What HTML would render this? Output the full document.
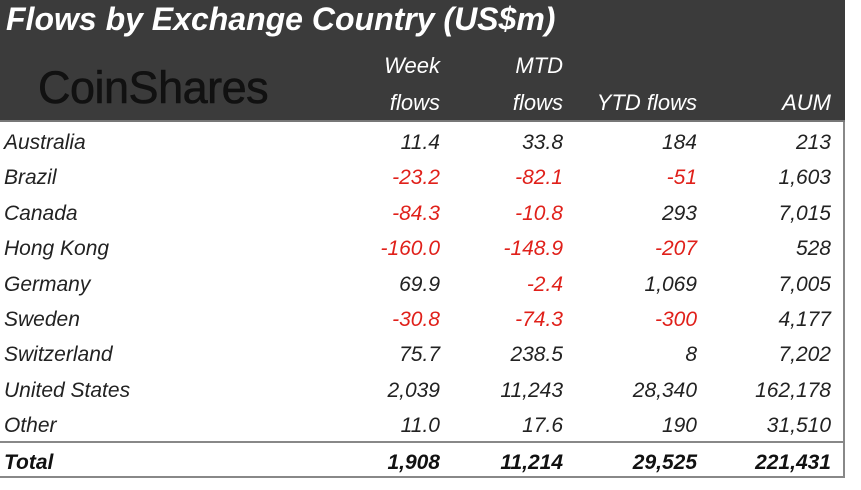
<!DOCTYPE html>
<html><head><meta charset="utf-8"><style>
body{margin:0;width:861px;height:490px;background:#fff;overflow:hidden;font-family:"Liberation Sans",sans-serif;font-style:italic}
#t{position:absolute;left:0;top:0;width:845px;height:478px;border-right:2px solid #888;border-bottom:2px solid #888;box-sizing:border-box}
#hd{position:absolute;left:0;top:0;width:845px;height:122px;background:#3b3b3b;border-bottom:2px solid #777;box-sizing:border-box}
.a{position:absolute;white-space:nowrap}
.title{left:6px;top:1px;font-size:32px;font-weight:bold;color:#fff}
.h{color:#fff;font-size:22px;text-align:right}
.logo{left:38px;top:62px;font-size:45px;color:#111;font-style:normal;letter-spacing:-0.5px;-webkit-text-stroke:0.6px #111}
.c{font-size:21px;color:#222}
.neg{color:#e0201a}
.tot{font-weight:bold;color:#111}
#sep{position:absolute;left:0;top:441px;width:845px;height:2px;background:#888}
</style></head><body>
<div id="t">
<div id="hd">
<div class="a title">Flows by Exchange Country (US$m)</div>
<div class="a logo">CoinShares</div>
</div>
<div id="sep"></div>
</div>
<div id="rows"></div>
<script>
const countries=["Australia","Brazil","Canada","Hong Kong","Germany","Sweden","Switzerland","United States","Other","Total"];
const week=["11.4","-23.2","-84.3","-160.0","69.9","-30.8","75.7","2,039","11.0","1,908"];
const mtd=["33.8","-82.1","-10.8","-148.9","-2.4","-74.3","238.5","11,243","17.6","11,214"];
const ytd=["184","-51","293","-207","1,069","-300","8","28,340","190","29,525"];
const aum=["213","1,603","7,015","528","7,005","4,177","7,202","162,178","31,510","221,431"];
const cols=[week,mtd,ytd,aum];
const colRight=[440,563,697,831];
const root=document.getElementById('rows');
function add(text,x,y,cls,right,name){
  const d=document.createElement('div');
  d.className='a '+cls;
  d.textContent=text;
  d.style.top=(y-13)+'px';
  if(right){d.style.right=(861-x)+'px';}else{d.style.left=x+'px';}
  
  
  root.appendChild(d);
}
add('Week',440,66,'h',true,'week-header');
add('flows',440,103,'h',true,'week-header-2');
add('MTD',563,66,'h',true,'mtd-header');
add('flows',563,103,'h',true,'mtd-header-2');
add('YTD flows',697,103,'h',true,'ytd-header');
add('AUM',831,103,'h',true,'aum-header');
countries.forEach((c,i)=>{
  const y=144+i*35.4+(i==9?1:0);
  const tot=i==9?' tot':'';
  add(c,4,y,'c'+tot,false,'country-'+c.toLowerCase().replace(/ /g,'-'));
  cols.forEach((col,j)=>{
    const v=col[i];
    add(v,colRight[j],y,'c'+tot+(v.startsWith('-')?' neg':''),true,'cell-'+i+'-'+j);
  });
});
</script>
</body></html>
